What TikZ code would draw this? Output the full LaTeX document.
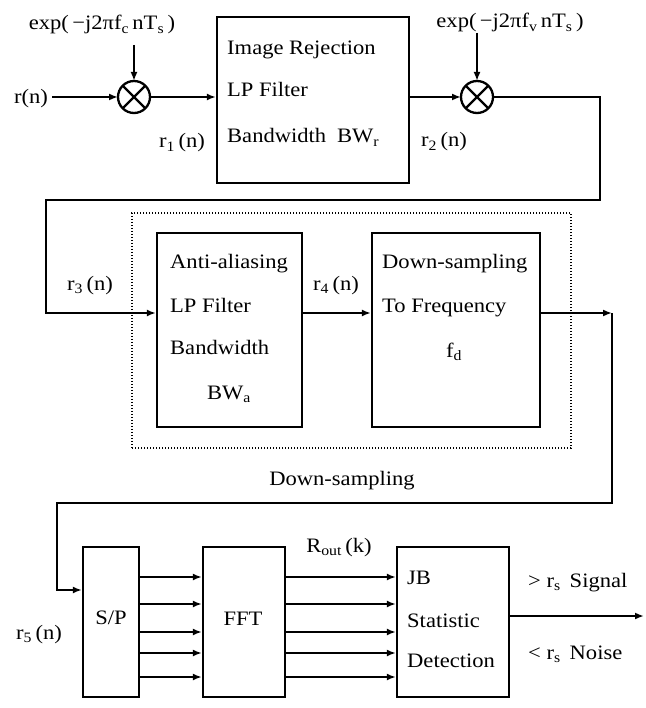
\documentclass[tikz,border=0pt]{standalone}
\usepackage{fontspec}
\setmainfont{Liberation Serif}[FakeStretch=1.1]
\usetikzlibrary{arrows.meta}
\newcommand{\sbs}[1]{\textsubscript{#1}}
\begin{document}
\begin{tikzpicture}[x=1pt,y=-1pt,
  font=\fontsize{20.5}{24}\selectfont,
  blk/.style={draw, line width=2.3pt, inner sep=0pt},
  mix/.style={draw, circle, line width=2.3pt, minimum size=32pt, inner sep=0pt, outer sep=0pt},
  dotbox/.style={draw, line width=1.8pt, dash pattern=on 1.4pt off 1.6pt, inner sep=0pt},
  wire/.style={line width=2.3pt},
  arr/.style={line width=2.3pt, -{Latex[length=9pt,width=7pt]}},
  txt/.style={inner sep=0pt, anchor=base west},
  ctxt/.style={inner sep=0pt, anchor=base}]
\useasboundingbox (0,0) rectangle (645,708);

% blocks
\node[blk, minimum width=192pt, minimum height=166pt] (box1) at (313,100) {};
\node[dotbox, minimum width=439pt, minimum height=235pt] (dots) at (351.5,330.5) {};
\node[blk, minimum width=145pt, minimum height=194pt] (box2) at (229.5,330) {};
\node[blk, minimum width=168pt, minimum height=194pt] (box3) at (456,330) {};
\node[blk, minimum width=56pt, minimum height=150pt] (sp) at (111,622) {};
\node[blk, minimum width=82pt, minimum height=150pt] (fft) at (244,622) {};
\node[blk, minimum width=112pt, minimum height=150pt] (det) at (453,622) {};

% mixers
\node[mix] (m1) at (134,97) {};
\node[mix] (m2) at (477,97) {};
\draw[wire] (m1.north east) -- (m1.south west) (m1.north west) -- (m1.south east);
\draw[wire] (m2.north east) -- (m2.south west) (m2.north west) -- (m2.south east);

% box texts
\node[txt] (t11) at (227,55) {Image Rejection};
\node[txt] (t12) at (227,97) {LP Filter};
\node[txt] (t13) at (227,143) {Bandwidth\hspace{11pt}BW\sbs{r}};
\node[txt] (t21) at (170,269) {Anti-aliasing};
\node[txt] (t22) at (170,312) {LP Filter};
\node[txt] (t23) at (170,354) {Bandwidth};
\node[ctxt] (t24) at (229,399) {BW\sbs{a}};
\node[txt] (t31) at (382,269) {Down-sampling};
\node[txt] (t32) at (382,312) {To Frequency};
\node[ctxt] (t33) at (454,357) {f\sbs{d}};
\node[ctxt] (tsp) at (111,624) {S/P};
\node[ctxt] (tfft) at (243,625) {FFT};
\node[txt] (t41) at (407,584) {JB};
\node[txt] (t42) at (407,627) {Statistic};
\node[txt] (t43) at (407,667) {Detection};

% labels
\node[ctxt] (exp1) at (102,30) {exp(\,−j2πf\sbs{c}\,nT\sbs{s}\,)};
\node[ctxt] (exp2) at (510,28) {exp(\,−j2πf\sbs{v}\,nT\sbs{s}\,)};
\node[ctxt] (rn) at (31,104) {r(n)};
\node[ctxt] (r1) at (182,148) {r\sbs{1}\,(n)};
\node[ctxt] (r2) at (444,147) {r\sbs{2}\,(n)};
\node[ctxt] (r3) at (90,290) {r\sbs{3}\,(n)};
\node[ctxt] (r4) at (336,290) {r\sbs{4}\,(n)};
\node[ctxt] (dsl) at (342,485) {Down-sampling};
\node[ctxt] (r5) at (39,639) {r\sbs{5}\,(n)};
\node[ctxt] (rout) at (339,552) {R\sbs{out}\,(k)};
\node[txt] (sig) at (528,587) {> r\sbs{s}\hspace{9pt}Signal};
\node[txt] (noi) at (528,659) {< r\sbs{s}\hspace{9pt}Noise};

% coordinates
\coordinate (a1) at (134,45);
\coordinate (a2) at (477,33);
\coordinate (c1) at (600,97);
\coordinate (c2) at (600,200);
\coordinate (c3) at (46,200);
\coordinate (c4) at (46,313);
\coordinate (c5) at (612,313);
\coordinate (c6) at (612,503);
\coordinate (c7) at (57,503);
\coordinate (c8) at (57,590);
\coordinate (out) at (644,616);

% connectors
\draw[arr] (rn.east |- m1.west) ++(4,0) -- (m1.west);
\draw[arr] (a1) -- (m1.north);
\draw[arr] (a2) -- (m2.north);
\draw[arr] (m1.east) -- (m1.east -| box1.west);
\draw[arr] (m2.west -| box1.east) -- (m2.west);
\draw[arr] (m2.east) -- (c1) -- (c2) -- (c3) -- (c4) -- (c4 -| box2.west);
\draw[arr] (c4 -| box2.east) -- (c4 -| box3.west);
\draw[arr] (c4 -| box3.east) -- (c5);
\draw[arr] (c5) -- (c6) -- (c7) -- (c8) -- (c8 -| sp.west);
\foreach \yy [count=\i] in {577,604,632,653,677} {
  \coordinate (p\i) at (0,\yy);
  \draw[arr] (p\i -| sp.east) -- (p\i -| fft.west);
  \draw[arr] (p\i -| fft.east) -- (p\i -| det.west);
}
\draw[arr] (out -| det.east) -- (out);
\end{tikzpicture}
\end{document}
